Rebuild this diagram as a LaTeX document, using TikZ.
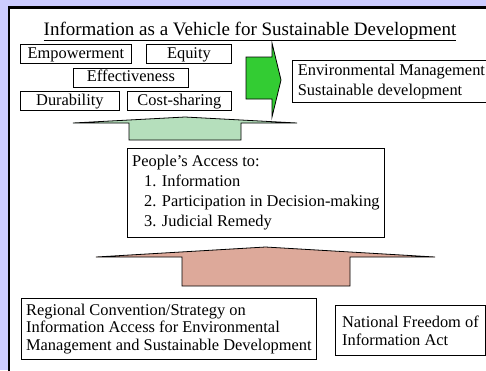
\documentclass[tikz,border=0pt]{standalone}
\usepackage{fontspec}
\setmainfont{Liberation Serif}
\definecolor{panelbg}{RGB}{204,204,255}
\definecolor{leafgreen}{RGB}{51,204,51}
\definecolor{palegreen}{RGB}{181,223,188}
\definecolor{rosy}{RGB}{221,169,154}
\tikzset{
  tag/.style={draw,line width=.8pt,fill=white,inner sep=0pt,anchor=north west,
    minimum height=19pt,text height=12pt,text depth=3pt,font=\fontsize{16.4}{20}\selectfont},
  note/.style={draw,line width=.8pt,fill=white,inner sep=0pt,anchor=north west,
    align=left,font=\fontsize{16.4}{#1}\selectfont},
  note/.default=20,
  blk/.style={draw,line width=.8pt,line join=miter}
}
\newcommand{\raisearrow}[8]{%
  \draw[blk,fill=#1] (#2,#4) -- ({(#2+#3)/2},#5) -- (#3,#4) -- (#7,#4)
    -- (#7,#8) -- (#6,#8) -- (#6,#4) -- cycle;
}

\begin{document}
\begin{tikzpicture}[x=1pt,y=-1pt]
  \useasboundingbox (0,0) rectangle (486,370);
  \fill[panelbg] (0,0) rectangle (486,370);
  \fill[white] (9,7.5) rectangle (487,371);
  \draw[line width=2.8pt] (9,372) -- (9,7.5) -- (488,7.5);

  \node[anchor=base,font=\fontsize{19}{23}\selectfont] (title) at (250,35)
    {\underline{Information as a Vehicle for Sustainable Development}};

  \node[tag,minimum width=111pt] (empower) at (20,44) {Empowerment};
  \node[tag,minimum width=85pt] (equity) at (146,44) {Equity};
  \node[tag,minimum width=115pt] (effect) at (73,67.5) {Effectiveness};
  \node[tag,minimum width=99pt] (durab) at (20,91) {Durability};
  \node[tag,minimum width=104pt] (costshare) at (127,91) {Cost-sharing};

  \draw[blk,fill=leafgreen] (246,57) -- (272,57) -- (272,43) -- (281,80)
    -- (272,117) -- (272,99) -- (246,99) -- cycle;
  \node[note,minimum width=198pt,minimum height=42pt] (envman) at (292,60)
    {Environmental Management\\Sustainable development};

  \raisearrow{palegreen}{73}{297}{123}{117}{129}{241}{140}

  \node[note,minimum width=257pt,minimum height=89pt] (access) at (127,148)
    {People's Access to:\\
     \hspace*{12pt}1. Information\\
     \hspace*{12pt}2. Participation in Decision-making\\
     \hspace*{12pt}3. Judicial Remedy};

  \raisearrow{rosy}{96}{435}{257}{247}{182}{350}{286}

  \node[note=17.5,minimum width=295pt,minimum height=61pt] (regional) at (21,298)
    {Regional Convention/Strategy on\\
     Information Access for Environmental\\
     Management and Sustainable Development};
  \node[note=18,minimum width=150pt,minimum height=50pt] (national) at (335,305)
    {National Freedom of\\Information Act};
\end{tikzpicture}
\end{document}
